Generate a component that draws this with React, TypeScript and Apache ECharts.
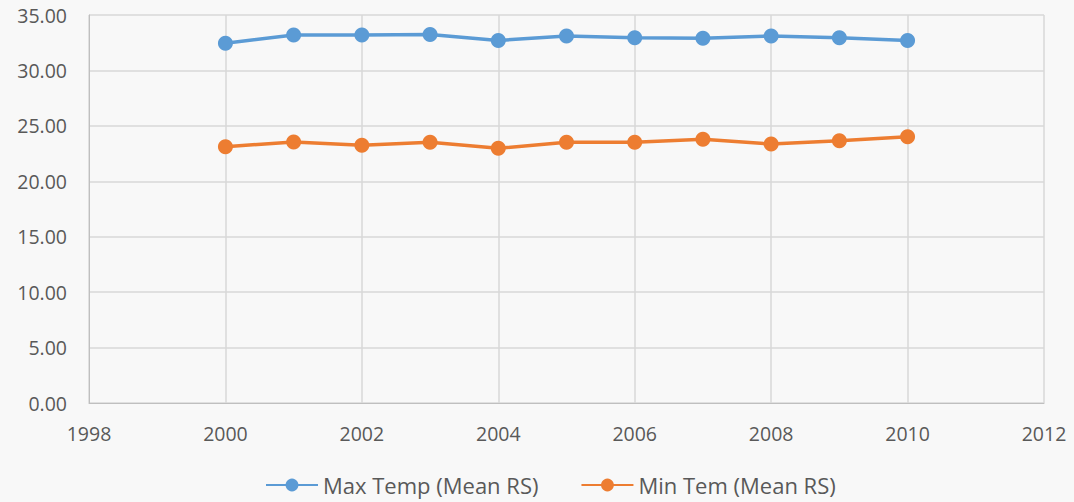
import React, { useEffect, useRef } from "react";
import * as echarts from "echarts";

const years = [2000, 2001, 2002, 2003, 2004, 2005, 2006, 2007, 2008, 2009, 2010];
const maxTemp = [32.45, 33.2, 33.2, 33.25, 32.7, 33.1, 32.95, 32.9, 33.1, 32.95, 32.7];
const minTemp = [23.12, 23.54, 23.25, 23.52, 22.97, 23.52, 23.52, 23.79, 23.36, 23.66, 24.02];
const seriesNames = ["Max Temp (Mean RS)", "Min Tem (Mean RS)"];

export default function App() {
  const ref = useRef<HTMLDivElement>(null);
  useEffect(() => {
    if (!ref.current) return;
    const chart = echarts.init(ref.current, null, { renderer: "svg" });
    const font = "'Open Sans', 'Noto Sans', sans-serif";
    const mk = (name: string, vals: number[], color: string) => ({
      name,
      type: "line",
      data: years.map((y, i) => [y, vals[i]]),
      symbol: "circle",
      symbolSize: 15,
      lineStyle: { color, width: 3.5 },
      itemStyle: { color },
    });
    chart.setOption({
      animation: false,
      backgroundColor: "#f8f8f8",
      textStyle: { fontFamily: font },
      grid: { left: 89, right: 30, top: 15, bottom: 99 },
      legend: {
        bottom: 1,
        left: 260,
        itemWidth: 52,
        itemHeight: 16,
        itemGap: 42,
        textStyle: { color: "#595959", fontSize: 22, fontFamily: font },
        data: seriesNames,
      },
      xAxis: {
        type: "value",
        min: 1998,
        max: 2012,
        interval: 2,
        axisLine: { show: true, lineStyle: { color: "#bfbfbf", width: 1 } },
        axisTick: { show: false },
        splitLine: { show: true, lineStyle: { color: "#d9d9d9", width: 1.5 } },
        axisLabel: {
          color: "#595959",
          fontSize: 19.5,
          margin: 20,
          fontFamily: font,
          formatter: (v: number) => String(v),
        },
      },
      yAxis: {
        type: "value",
        min: 0,
        max: 35,
        interval: 5,
        axisLine: { show: true, lineStyle: { color: "#bfbfbf", width: 1 } },
        axisTick: { show: false },
        splitLine: { show: true, lineStyle: { color: "#d9d9d9", width: 1.5 } },
        axisLabel: {
          color: "#595959",
          fontSize: 19.5,
          margin: 22,
          fontFamily: font,
          formatter: (v: number) => v.toFixed(2),
        },
      },
      series: [mk(seriesNames[0], maxTemp, "#5B9BD5"), mk(seriesNames[1], minTemp, "#ED7D31")],
    });
    return () => chart.dispose();
  }, []);
  return <div ref={ref} style={{ position: "fixed", left: 0, top: 0, width: 1074, height: 502 }} />;
}
